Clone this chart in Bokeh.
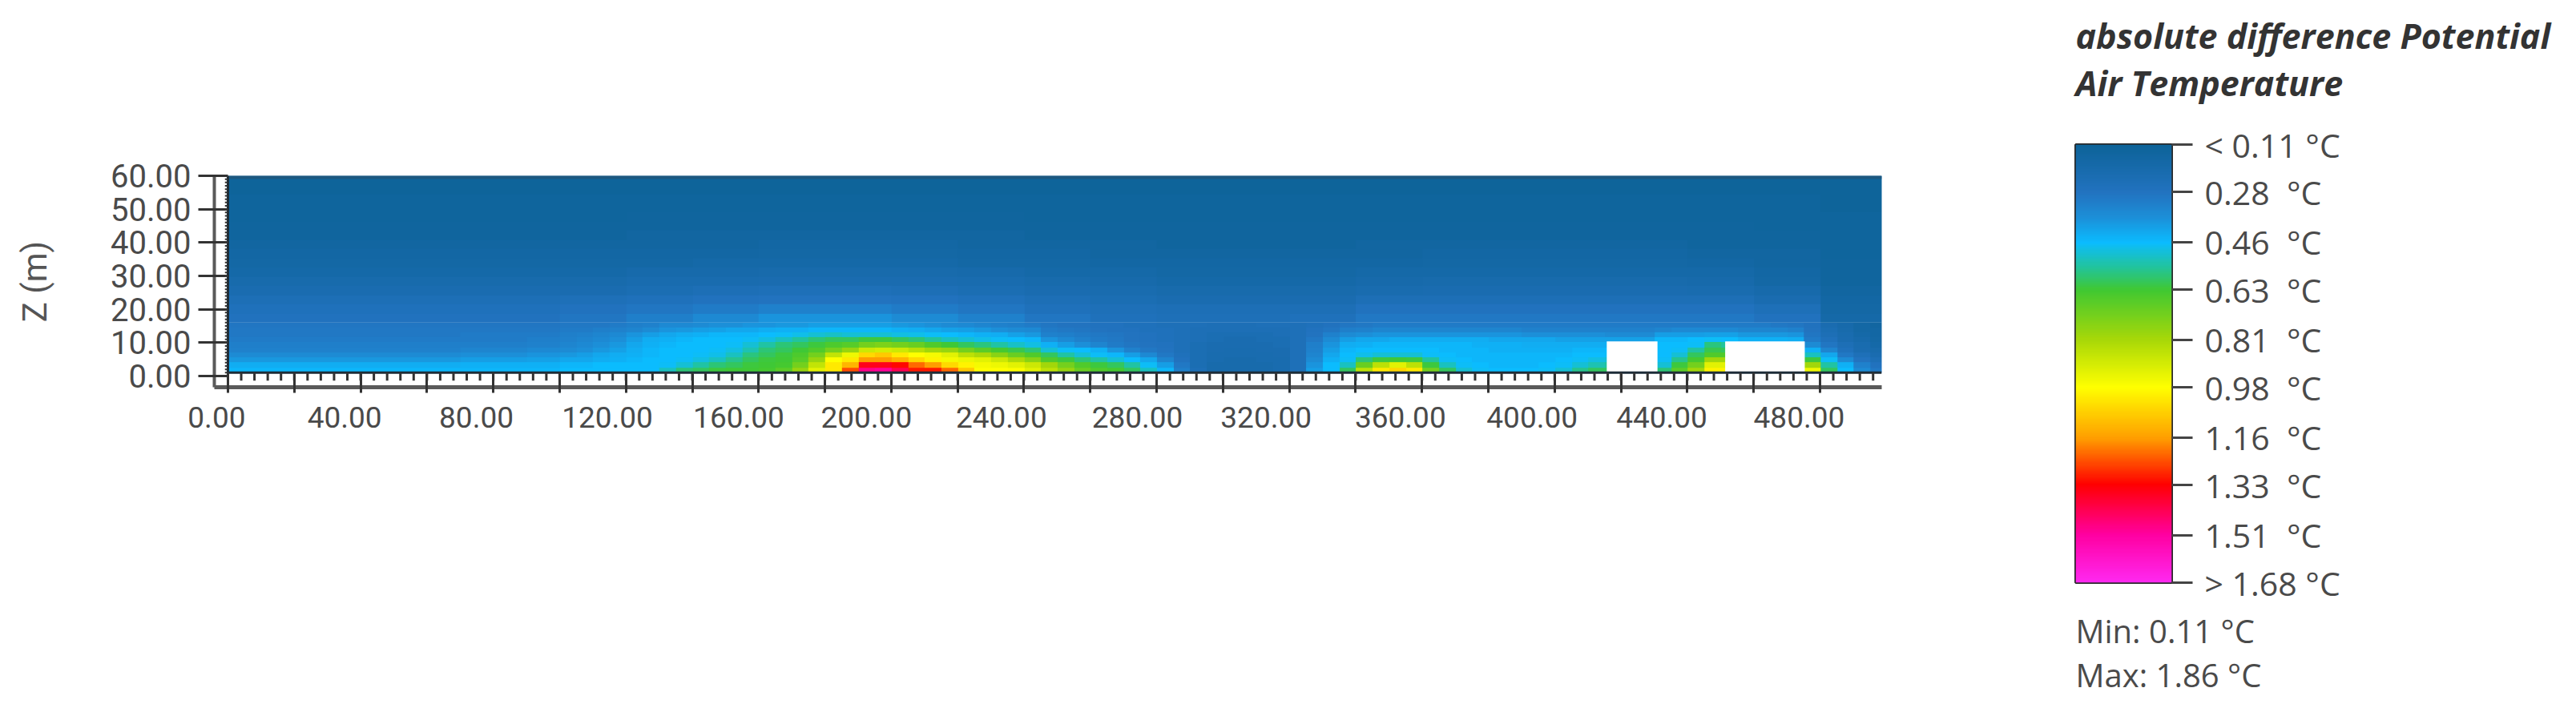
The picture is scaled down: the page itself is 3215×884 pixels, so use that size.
import numpy as np
from bokeh.embed import file_html
from bokeh.layouts import column, row
from bokeh.models import (BoxAnnotation, FixedTicker, LinearAxis, LinearColorMapper, Range1d, Title)
from bokeh.plotting import figure
from bokeh.resources import INLINE

# ---- data -------------------------------------------------------------
x_major = list(range(0, 500, 20))
x_minor = list(range(0, 500, 4))
z_major = [0, 10, 20, 30, 40, 50, 60]
z_minor = list(range(0, 61, 1))
x_label_values = [0, 40, 80, 120, 160, 200, 240, 280, 320, 360, 400, 440, 480]
x_label_texts = ["0.00", "40.00", "80.00", "120.00", "160.00", "200.00", "240.00", "280.00",
                 "320.00", "360.00", "400.00", "440.00", "480.00"]
x_label_nudge_m = [-3.4, -4.8, -5.1, -5.6, -6.0, -7.5, -6.8, -5.8, -7.0, -6.5, -6.8, -7.7, -6.3]
z_labels = {0: "0.00", 10: "10.00", 20: "20.00", 30: "30.00", 40: "40.00", 50: "50.00", 60: "60.00"}

building_left = [415.7, 451.4]
building_right = [431.0, 475.4]
building_top = [10.4, 10.4]

legend_values = [0.11, 0.28, 0.46, 0.63, 0.81, 0.98, 1.16, 1.33, 1.51, 1.68]
legend_texts = ["< 0.11 °C", "0.28\u00a0 °C", "0.46\u00a0 °C", "0.63\u00a0 °C", "0.81\u00a0 °C", "0.98\u00a0 °C",
                "1.16\u00a0 °C", "1.33\u00a0 °C", "1.51\u00a0 °C", "> 1.68 °C"]
stop_values = [0.11, 0.20, 0.28, 0.37, 0.46, 0.55, 0.63, 0.81, 0.98, 1.16, 1.33, 1.51, 1.68]
stop_colors = ["#0d6399", "#186bad", "#2273c0", "#1c8fd8", "#0bbcff", "#22c49a", "#40c832",
               "#a8d808", "#ffff00", "#ffa000", "#ff0000", "#ff00a0", "#ff28f0"]

# Field, hundredths of a degree.
# Lower band: z = 1..16 in ten 1.5 m layers (bottom first), one list per 5 m column.
low_000 = [[45,43,39,36,33,32,31,30,30,29]] * 10
low_050 = [[45,43,39,36,33,32,31,30,30,29],[45,43,39,36,33,32,31,30,30,29],[45,43,39,36,33,32,31,30,30,29],[45,43,39,36,33,32,31,30,30,29],
           [45,44,40,37,34,32,31,31,30,29],[45,44,40,37,34,32,31,31,30,29],[45,44,40,37,34,32,31,31,30,29],[45,44,40,37,34,32,31,31,30,29],[45,44,41,38,35,33,32,31,30,29],[45,44,41,38,35,33,32,31,30,29]]
low_100 = [[46,45,42,39,36,34,33,32,31,30],[46,45,42,40,37,35,34,33,31,30],[46,46,43,42,39,37,35,34,32,30],[46,46,44,43,41,39,37,35,33,31],[46,46,45,44,43,42,40,38,34,32],
           [46,46,46,45,45,44,43,40,36,33],[52,47,46,46,46,45,44,42,38,35],[58,50,47,46,46,46,45,43,39,35],[60,54,49,47,46,46,46,44,40,36],[62,58,52,48,47,46,46,45,41,37]]
low_150 = [[63,60,56,52,49,47,46,45,42,37],[63,62,60,57,53,50,47,45,42,38],[64,63,62,60,58,54,49,46,43,38],[68,64,63,62,60,58,52,47,44,39],[78,72,67,65,63,60,55,48,44,39],
           [92,86,78,72,66,62,58,50,45,40],[102,102,98,86,72,65,60,51,45,40],[125,112,102,95,78,67,60,50,45,40],[148,136,116,105,88,72,62,50,45,40],[150,136,116,108,90,74,62,50,45,40]]
low_200 = [[142,132,112,102,88,72,60,49,44,39],[130,122,105,98,84,70,58,48,43,38],[130,116,100,96,80,66,55,47,42,37],[122,105,96,92,78,63,52,46,41,36],[108,100,94,85,72,60,50,45,40,35],
           [98,96,92,82,68,57,48,44,39,34],[98,95,88,76,64,54,47,43,37,33],[97,92,82,70,61,51,46,41,36,32],[92,88,76,66,58,49,45,39,35,31],[85,80,66,60,50,44,38,33,31,29]]
low_250 = [[78,72,62,54,47,40,35,32,30,28],[70,66,58,50,46,37,33,31,29,28],[66,62,54,47,44,34,31,30,28,27],[64,60,50,45,38,31,30,29,27,27],[60,54,46,40,33,29,28,28,27,26],
           [52,47,42,35,30,28,27,27,26,26],[45,40,34,30,28,27,26,26,26,25],[32,30,27,26,25,25,25,25,25,25],[24,23,23,23,23,23,24,24,24,25],[20,20,21,21,22,22,23,23,24,24]]
low_300 = [[20,20,20,21,21,22,22,23,24,24],[20,20,20,21,21,22,22,23,24,24],[20,20,21,21,22,22,23,23,24,25],[21,21,21,22,22,23,23,24,24,25],[25,25,25,25,25,25,25,25,25,25],
           [40,38,36,34,33,32,30,28,27,26],[46,46,44,42,40,38,36,33,29,27],[60,52,47,46,45,43,40,36,32,29],[85,70,58,48,46,44,42,37,33,30],[102,85,62,50,46,45,42,38,34,31]]
low_350 = [[106,92,63,50,46,45,43,38,34,31],[102,85,62,50,46,45,43,38,34,31],[72,62,55,47,46,45,43,38,34,31],[60,52,47,46,45,45,43,38,34,31],[50,47,46,45,45,45,43,38,34,31],
           [47,46,45,45,45,44,43,38,34,31],[46,45,45,45,44,44,42,38,34,31],[46,45,45,45,44,44,42,38,34,31],[46,45,45,45,44,43,42,37,33,31],[47,46,45,45,44,43,42,37,33,31]]
low_400 = [[50,47,46,45,44,43,41,37,33,31],[56,50,47,46,45,43,41,37,33,31],[60,53,49,46,45,43,41,37,33,31],[60,55,50,47,46,44,41,36,33,31],[60,55,50,47,46,44,41,36,33,31],
           [60,55,50,47,46,44,41,36,33,31],[58,50,47,46,46,46,45,40,34,31],[68,62,56,50,47,46,45,40,35,31],[80,72,64,60,54,47,46,40,35,31],[100,92,80,66,61,57,47,41,35,31]]
low_450 = [[100,92,80,66,60,55,46,41,35,31],[90,85,70,60,54,50,44,39,34,31],[90,85,70,60,54,50,44,39,34,31],[90,85,70,60,54,50,44,39,34,30],[90,85,70,60,54,50,43,38,33,29],
           [95,80,62,52,44,36,31,29,28,27],[60,54,47,42,34,29,26,24,23,22],[46,44,36,30,26,24,22,21,20,19],[36,33,28,25,22,21,19,18,17,17],[30,27,24,22,20,18,17,16,16,15]]
lower_columns = low_000 + low_050 + low_100 + low_150 + low_200 + low_250 + low_300 + low_350 + low_400 + low_450

# Upper band: z = 16..60 in sixteen 2.75 m layers (bottom first), one list per 20 m column.
up_000 = [[27,26,24,22,20,18,17,16,15,14,14,13,13,13,12,12]] * 5
up_100 = [[29,27,25,22,20,18,17,16,15,14,14,13,13,13,12,12],[32,29,26,23,21,19,17,16,15,15,14,14,13,13,12,12],[35,31,27,24,21,19,18,16,15,15,14,14,13,13,12,12],
          [38,33,28,25,22,20,18,17,16,15,14,14,13,13,12,12],[38,33,28,25,22,20,18,17,16,15,14,14,13,13,12,12]]
up_200 = [[36,31,27,24,22,20,18,17,16,15,14,14,13,13,12,12],[33,29,26,23,21,19,17,16,15,15,14,14,13,13,12,12],[29,26,24,22,20,18,17,16,15,14,14,13,13,13,12,12],
          [26,25,23,21,19,18,16,15,15,14,14,13,13,13,12,12],[25,24,22,20,18,17,16,15,14,14,14,13,13,13,12,12]]
up_300 = [[25,24,22,20,18,17,16,15,14,14,14,13,13,13,12,12],[26,24,22,20,18,17,16,15,14,14,14,13,13,13,12,12],[30,27,24,21,19,18,16,15,15,14,14,13,13,13,12,12],
          [30,27,24,22,20,18,17,16,15,14,14,13,13,13,12,12],[30,27,24,22,20,18,17,16,15,14,14,13,13,13,12,12]]
up_400 = [[30,27,24,22,20,18,17,16,15,14,14,13,13,13,12,12],[30,27,24,22,20,18,17,16,15,14,14,13,13,13,12,12],[30,27,24,21,19,18,16,15,14,14,14,13,13,13,12,12],
          [27,25,22,19,17,16,15,15,14,14,13,13,13,13,12,12],[18,17,16,15,14,14,14,13,13,13,13,13,12,12,12,12]]
upper_columns = up_000 + up_100 + up_200 + up_300 + up_400

# ---- colours -------------------------------------------------------------
def hex_rgb(c):
    return [int(c[i:i + 2], 16) for i in (1, 3, 5)]

rgb = np.array([hex_rgb(c) for c in stop_colors], dtype=float)
grid = np.linspace(0.11, 1.68, 256)
palette = ["#%02x%02x%02x" % tuple(int(round(np.interp(g, stop_values, rgb[:, k]))) for k in range(3)) for g in grid]
mapper = LinearColorMapper(palette=palette, low=0.11, high=1.68)

TICK = "#333333"
LABEL = "#4a4a4a"
FONT = "Roboto"

# ---- main figure ---------------------------------------------------------
p = figure(width=2400, height=880, output_backend="svg", toolbar_location=None,
           x_range=Range1d(-4.1, 498.6), y_range=Range1d(-3.36, 60), x_axis_location=None,
           y_axis_location=None, frame_width=2081, frame_height=264,
           min_border_left=267, min_border_top=219, min_border_right=52, min_border_bottom=397)
p.xgrid.visible = False
p.ygrid.visible = False
p.outline_line_color = None
p.background_fill_color = "white"

p.image(image=[np.array(lower_columns, dtype=float).T / 100.0], x=0, y=1, dw=500, dh=15, color_mapper=mapper)
p.image(image=[np.array(upper_columns, dtype=float).T / 100.0], x=0, y=16, dw=500, dh=44, color_mapper=mapper)
p.quad(left=building_left, right=building_right, top=building_top, bottom=[1, 1],
       fill_color="white", line_color=None)

# dark edge of the domain and the small ticks hanging from it
p.line([0, 498.6], [1, 1], line_color="#1c2c38", line_width=3)
p.line([0, 498.6], [60, 60], line_color="#1d5880", line_width=8)
p.line([0, 0], [1, 60], line_color="#1c2c38", line_width=3)
p.segment(x0=x_minor, x1=x_minor, y0=[1] * len(x_minor), y1=[-1.4] * len(x_minor),
          line_color=TICK, line_width=3)
p.segment(x0=[-0.9] * len(z_minor), x1=[0] * len(z_minor), y0=z_minor, y1=z_minor,
          line_color=TICK, line_width=2)

xaxis = LinearAxis(ticker=FixedTicker(ticks=x_major), major_label_text_font_size="1px",
                   major_label_standoff=0, major_label_overrides={v: "" for v in x_major},
                   axis_line_color="#5a5a5a", axis_line_width=5,
                   major_tick_line_color=TICK, major_tick_line_width=3,
                   major_tick_in=17, major_tick_out=7, minor_tick_in=0, minor_tick_out=0)
p.add_layout(xaxis, "below")

shifted = [round(v + d, 2) for v, d in zip(x_label_values, x_label_nudge_m)]
xlabels = LinearAxis(ticker=FixedTicker(ticks=shifted), major_label_overrides=dict(zip(shifted, x_label_texts)),
                     axis_line_color=None, major_tick_line_color=None, major_tick_in=0, major_tick_out=0,
                     minor_tick_in=0, minor_tick_out=0, major_label_standoff=17,
                     major_label_text_font=FONT, major_label_text_font_size="37px",
                     major_label_text_color=LABEL)
p.add_layout(xlabels, "below")

yaxis = LinearAxis(ticker=FixedTicker(ticks=z_major), major_label_overrides=z_labels,
                   axis_line_color="#5a5a5a", axis_line_width=4,
                   major_tick_line_color=TICK, major_tick_line_width=3, major_tick_in=17, major_tick_out=20,
                   minor_tick_in=0, minor_tick_out=0,
                   major_label_standoff=9, major_label_text_font=FONT, major_label_text_font_size="40px",
                   major_label_text_color=LABEL, axis_label="Z (m)", axis_label_text_font=FONT,
                   axis_label_text_font_size="42px", axis_label_text_font_style="normal",
                   axis_label_text_color="#555555", axis_label_standoff=67)
p.add_layout(yaxis, "left")

for sx in (1307, 1352):
    p.add_layout(BoxAnnotation(left=sx, right=sx + 7, top=633, bottom=636, left_units="screen",
                               right_units="screen", top_units="screen", bottom_units="screen",
                               fill_color="#888888", fill_alpha=0.8, line_color=None))

# ---- colour legend -------------------------------------------------------
q = figure(width=815, height=916, output_backend="svg", toolbar_location=None, margin=(-36, 0, 0, 0),
           x_range=Range1d(0, 1), y_range=Range1d(1.68, 0.11), x_axis_location=None, y_axis_location=None,
           frame_width=120, frame_height=547, min_border_left=190, min_border_top=216,
           min_border_right=505, min_border_bottom=153)
q.xgrid.visible = False
q.ygrid.visible = False
q.outline_line_color = "#2a2a2a"
q.outline_line_width = 3
q.image(image=[np.linspace(0.11, 1.68, 256).reshape(-1, 1)], x=0, y=0.11, dw=1, dh=1.57, color_mapper=mapper)
cb_axis = LinearAxis(ticker=FixedTicker(ticks=legend_values),
                     major_label_overrides=dict(zip(legend_values, legend_texts)),
                     axis_line_color=None, major_tick_line_color="#444444", major_tick_line_width=3,
                     major_tick_in=0, major_tick_out=26, minor_tick_in=0, minor_tick_out=0,
                     major_label_standoff=15,
                     major_label_text_font="Open Sans", major_label_text_font_size="41px",
                     major_label_text_color=LABEL)
q.add_layout(cb_axis, "right")
q.add_layout(Title(text="absolute difference Potential\nAir Temperature", text_font="Open Sans",
                   text_font_style="bold italic", text_font_size="43px", text_color="#333333",
                   align="left", standoff=96), "above")
q.add_layout(Title(text="Min: 0.11 °C\nMax: 1.86 °C", text_font="Open Sans", text_font_style="normal",
                   text_font_size="40px", text_color=LABEL, align="left", standoff=60), "below")

layout = row(p, column(q), spacing=0)
open("out.html", "w").write(file_html(layout, INLINE))
